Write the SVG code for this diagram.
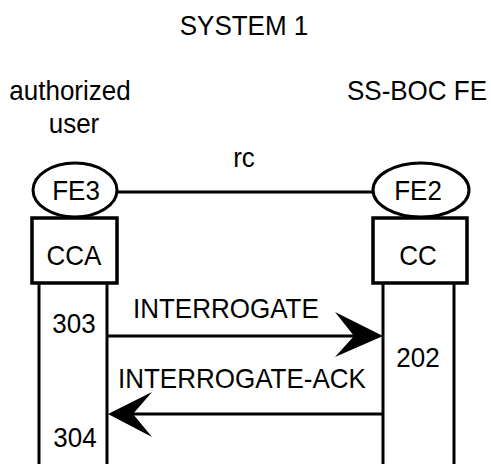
<svg xmlns="http://www.w3.org/2000/svg" width="491" height="464" viewBox="0 0 491 464">
  <style>
    text { font-family: "Liberation Sans", Arial, sans-serif; font-size: 26px; fill: #000; }
    .mid { text-anchor: middle; }
    .ln { stroke: #000; stroke-width: 3; fill: none; }
    .box { stroke: #000; stroke-width: 3.5; fill: #fff; }
    .fe { stroke: #000; stroke-width: 3; fill: #fff; }
    .head { fill: #000; stroke: none; }
  </style>

  <!-- labels use a slightly tall face: each is placed by a matrix (x, baseline) with 1.08 vertical stretch -->

  <!-- title -->
  <text class="mid" transform="matrix(1 0 0 1.08 244 35)">SYSTEM 1</text>

  <!-- connectors -->
  <g id="connectors">
    <line class="ln" x1="117" y1="192" x2="374" y2="192"/>
    <text class="mid" transform="matrix(1 0 0 1.08 244 167)">rc</text>

    <line class="ln" x1="107" y1="336" x2="370" y2="336"/>
    <polygon class="head" points="383,336 335,312 354,336 335,357"/>
    <text transform="matrix(1 0 0 1.08 133 318)">INTERROGATE</text>

    <line class="ln" x1="383" y1="414" x2="120" y2="414"/>
    <polygon class="head" points="108,414 152,392 133,414 152,437"/>
    <text transform="matrix(1 0 0 1.08 118 388)">INTERROGATE-ACK</text>
  </g>

  <!-- authorized user side -->
  <g id="fe3">
    <text class="mid" transform="matrix(1 0 0 1.08 70 100)">authorized</text>
    <text class="mid" transform="matrix(1 0 0 1.08 74 133)">user</text>
    <line class="ln" x1="39" y1="283" x2="39" y2="464"/>
    <line class="ln" x1="107" y1="283" x2="107" y2="464"/>
    <rect class="box" x="32" y="218" width="85" height="65"/>
    <text class="mid" transform="matrix(1 0 0 1.08 74 265)">CCA</text>
    <ellipse class="fe" cx="75" cy="190" rx="42" ry="27"/>
    <text class="mid" transform="matrix(1 0 0 1.08 76 200)">FE3</text>
    <text class="mid" transform="matrix(1 0 0 1.08 74 333)">303</text>
    <text class="mid" transform="matrix(1 0 0 1.08 75 447)">304</text>
  </g>

  <!-- SS-BOC FE side -->
  <g id="fe2">
    <text class="mid" transform="matrix(1 0 0 1.08 417 100)">SS-BOC FE</text>
    <line class="ln" x1="383" y1="283" x2="383" y2="464"/>
    <line class="ln" x1="454" y1="283" x2="454" y2="464"/>
    <rect class="box" x="373" y="218" width="94" height="65"/>
    <text class="mid" transform="matrix(1 0 0 1.08 418 265)">CC</text>
    <ellipse class="fe" cx="421" cy="190" rx="48" ry="27"/>
    <text class="mid" transform="matrix(1 0 0 1.08 418 200)">FE2</text>
    <text class="mid" transform="matrix(1 0 0 1.08 418 367)">202</text>
  </g>
</svg>
